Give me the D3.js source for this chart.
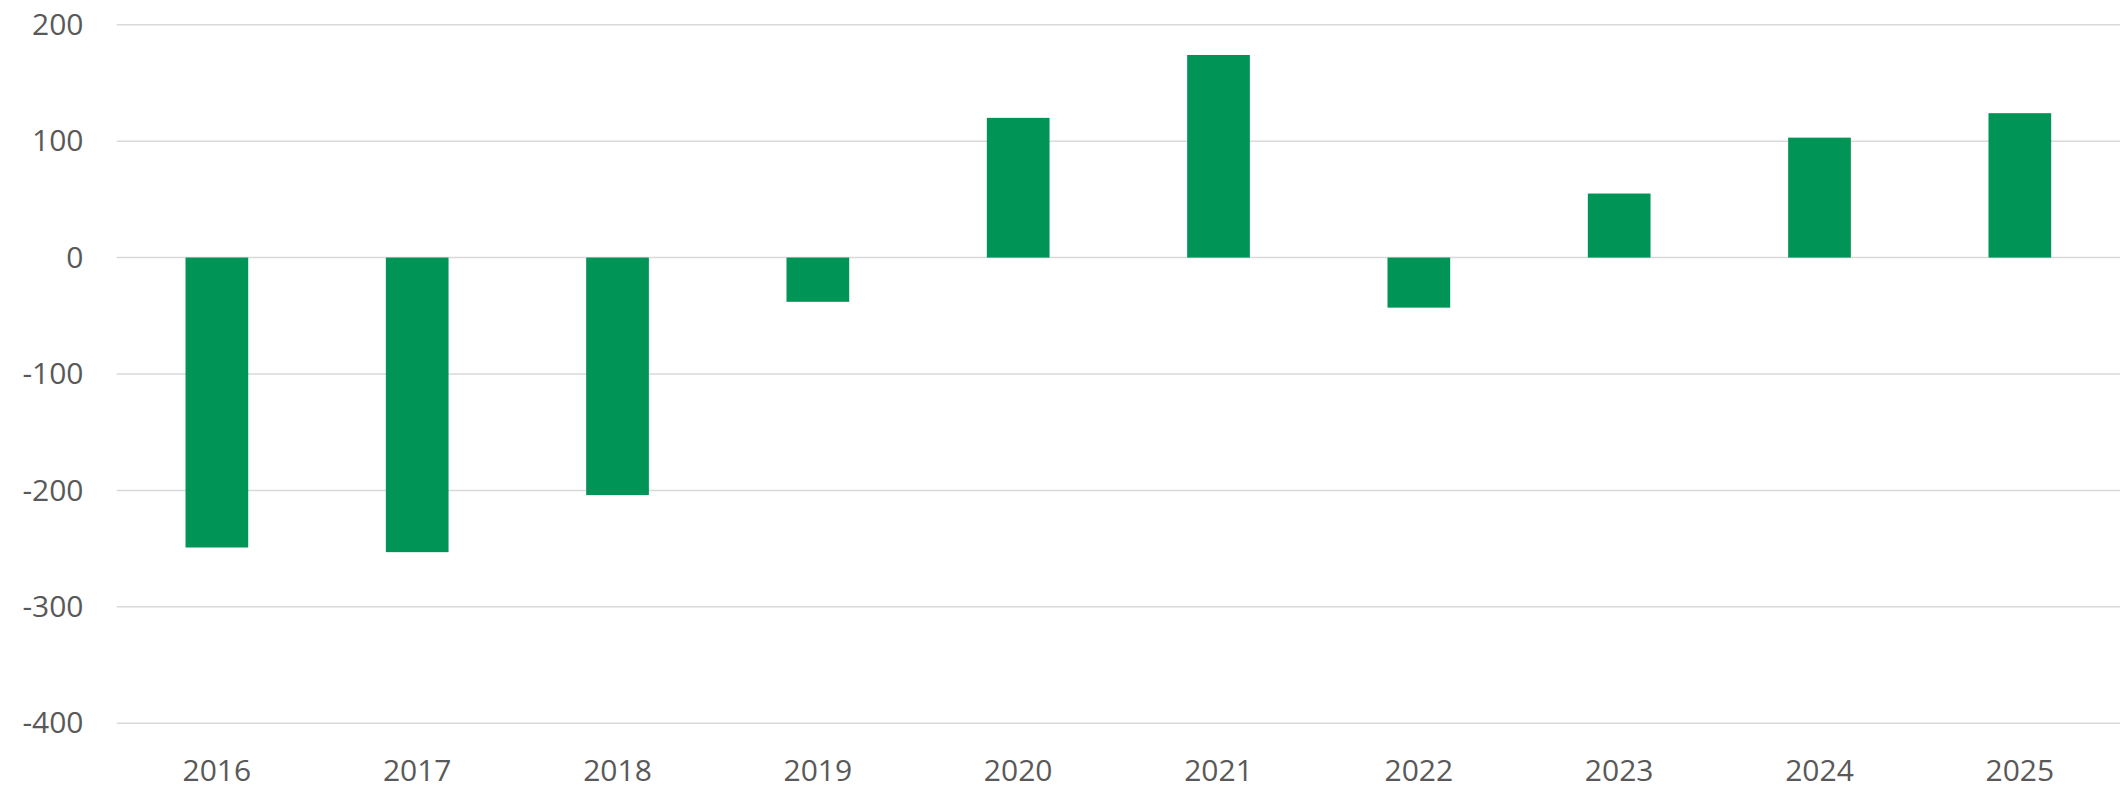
<!DOCTYPE html>
<html>
<head>
<meta charset="utf-8">
<script src="https://cdn.jsdelivr.net/npm/d3@7"></script>
<style>
  html, body { margin: 0; padding: 0; background: #ffffff; }
  svg { display: block; }
  text { font-family: "Open Sans", "Noto Sans", sans-serif; fill: #595959; }
</style>
</head>
<body>
<svg id="chart" width="2126" height="793"></svg>
<script>
const categories = ["2016","2017","2018","2019","2020","2021","2022","2023","2024","2025"];
const values = [-249, -253, -204, -38, 120, 174, -43, 55, 103, 124];
const yTicks = [200, 100, 0, -100, -200, -300, -400];

(function () {
  const plotL = 116.7, plotR = 2120, plotT = 24.7, plotB = 723.3;
  const svg = d3.select("#chart");

  const x = d3.scaleBand().domain(categories).range([plotL, plotR]).padding(0);
  const y = d3.scaleLinear().domain([-400, 200]).range([plotB, plotT]);

  // gridlines
  svg.append("g").selectAll("line").data(yTicks).join("line")
    .attr("x1", plotL).attr("x2", plotR)
    .attr("y1", d => y(d)).attr("y2", d => y(d))
    .attr("stroke", "#d9d9d9").attr("stroke-width", 1.5);

  // y axis labels (ASCII hyphen for negatives)
  const yAxis = d3.axisLeft(y).tickValues(yTicks).tickSize(0).tickPadding(0).tickFormat(d => String(d));
  const gy = svg.append("g").attr("transform", "translate(83.5,0)").call(yAxis);
  gy.select(".domain").remove();
  gy.selectAll("text").attr("font-size", 30).attr("fill", "#595959")
    .style("font-family", '"Open Sans", "Noto Sans", sans-serif');

  // x axis labels
  const xAxis = d3.axisBottom(x).tickSize(0).tickPadding(0);
  const gx = svg.append("g").attr("transform", `translate(0,${plotB + 36})`).call(xAxis);
  gx.select(".domain").remove();
  gx.selectAll("text").attr("font-size", 30).attr("fill", "#595959").attr("dy", "0.71em")
    .style("font-family", '"Open Sans", "Noto Sans", sans-serif');

  // bars
  const barFrac = 0.313;
  const bw = x.bandwidth() * barFrac;
  svg.append("g").selectAll("rect").data(categories.map((c, i) => ({c, v: values[i]}))).join("rect")
    .attr("x", d => x(d.c) + (x.bandwidth() - bw) / 2)
    .attr("width", bw)
    .attr("y", d => y(Math.max(0, d.v)))
    .attr("height", d => Math.abs(y(d.v) - y(0)))
    .attr("fill", "#009456");
})();
</script>
</body>
</html>
